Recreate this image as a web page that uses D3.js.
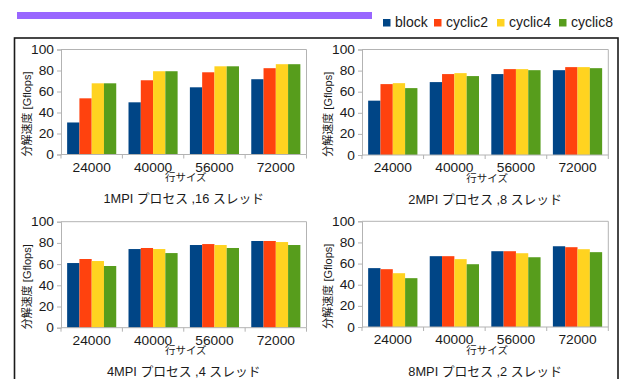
<!DOCTYPE html>
<html>
<head>
<meta charset="utf-8">
<script src="https://cdn.jsdelivr.net/npm/d3@7"></script>
<style>
  html, body { margin: 0; padding: 0; background: #fff; }
  svg { display: block; }
  text { font-family: "Liberation Sans", "Noto Sans CJK JP", sans-serif; fill: #1a1a1a; }
</style>
</head>
<body>
<svg id="chart" width="621" height="379"></svg>
<script>
// Matrix sizes on the x axis and the four distribution schemes
const categories = ["24000", "40000", "56000", "72000"];
const seriesNames = ["block", "cyclic2", "cyclic4", "cyclic8"];
const seriesColors = ["#004586", "#ff420e", "#ffd320", "#579d1c"];
const yTicks = [0, 20, 40, 60, 80, 100];

// Decomposition speed [Gflops]; one row per matrix size: block, cyclic2, cyclic4, cyclic8
const mpi1thr16 = [
  [30.5, 53.5, 67.8, 67.8],
  [49.7, 70.7, 79.3, 79.3],
  [64.0, 78.3, 84.0, 84.0],
  [71.7, 82.2, 86.0, 86.0]
];
const mpi2thr8 = [
  [51.5, 67.2, 68.1, 63.4],
  [69.1, 76.7, 77.6, 74.8],
  [76.7, 81.4, 81.4, 80.4],
  [80.4, 83.3, 83.3, 82.3]
];
const mpi4thr4 = [
  [61.0, 64.8, 62.9, 58.2],
  [74.2, 75.2, 74.2, 70.4],
  [78.0, 78.9, 78.0, 75.2],
  [81.8, 81.8, 80.8, 78.0]
];
const mpi8thr2 = [
  [55.7, 54.7, 50.9, 46.2],
  [67.0, 67.0, 64.2, 59.4],
  [71.7, 71.7, 69.8, 66.0],
  [76.4, 75.5, 73.6, 70.8]
];
const panelTitles = [
  "1MPI プロセス ,16 スレッド",
  "2MPI プロセス ,8 スレッド",
  "4MPI プロセス ,4 スレッド",
  "8MPI プロセス ,2 スレッド"
];
const yLabel = "分解速度 [Gflops]";
const xLabel = "行サイズ";

const svg = d3.select("#chart");
const gridColor = "#b3b3b3";
const stretch = 1.1;

// Header band and outer frame
svg.append("rect").attr("x", 17).attr("y", 12).attr("width", 355).attr("height", 7).attr("fill", "#9966ff");
svg.append("rect").attr("x", 14.5).attr("y", 38).attr("width", 603.5).attr("height", 360)
  .attr("fill", "none").attr("stroke", "#1a1a1a").attr("stroke-width", 1.6);

// Legend
const legendX = [383, 434, 497, 559];
const legend = svg.append("g");
seriesNames.forEach((name, i) => {
  legend.append("rect").attr("x", legendX[i]).attr("y", 19).attr("width", 7.5).attr("height", 7.5)
    .attr("fill", seriesColors[i]);
  legend.append("text").attr("x", legendX[i] + 12).attr("y", 27.3)
    .attr("font-size", 14).text(name);
});

const panels = [
  { data: mpi1thr16, title: panelTitles[0], x0: 61, x1: 306.5, y0: 49.5, y1: 154.5 },
  { data: mpi2thr8,  title: panelTitles[1], x0: 362, x1: 608.3, y0: 49.5, y1: 155 },
  { data: mpi4thr4,  title: panelTitles[2], x0: 61, x1: 306.5, y0: 221.7, y1: 327.7 },
  { data: mpi8thr2,  title: panelTitles[3], x0: 362, x1: 608.3, y0: 221.3, y1: 327 }
];

panels.forEach(p => {
  const g = svg.append("g");
  const x = d3.scaleBand().domain(categories).range([p.x0, p.x1]).paddingInner(0).paddingOuter(0);
  const bw = x.bandwidth();
  const xs = d3.scaleBand().domain(seriesNames).range([bw * 0.1, bw * 0.9]).padding(0);
  const y = d3.scaleLinear().domain([0, 100]).range([p.y1, p.y0]);

  // Plot border (top and right)
  g.append("path")
    .attr("d", `M${p.x0},${y(100)}H${p.x1}V${y(0)}`)
    .attr("fill", "none").attr("stroke", gridColor).attr("stroke-width", 1);

  // Bars
  categories.forEach((c, ci) => {
    g.selectAll(null).data(p.data[ci]).join("rect")
      .attr("x", (d, si) => x(c) + xs(seriesNames[si]))
      .attr("y", d => y(d))
      .attr("width", xs.bandwidth())
      .attr("height", d => y(0) - y(d))
      .attr("fill", (d, si) => seriesColors[si]);
  });

  // Y axis
  const ya = g.append("g").attr("transform", `translate(${p.x0},0)`)
    .call(d3.axisLeft(y).tickValues(yTicks).tickSize(4).tickPadding(3).tickFormat(d3.format("d")));
  ya.select(".domain").attr("stroke", gridColor);
  ya.selectAll(".tick line").attr("stroke", gridColor);
  ya.selectAll(".tick text").attr("font-size", 12.5).attr("fill", "#1a1a1a")
    .attr("font-family", "Liberation Sans").attr("transform", `scale(${stretch},1)`).attr("x", -7 / stretch);

  // X axis: category labels centred in bands, ticks at band edges
  const xa = g.append("g").attr("transform", `translate(0,${p.y1})`)
    .call(d3.axisBottom(x).tickSize(0).tickPadding(0));
  xa.select(".domain").remove();
  g.append("line").attr("x1", p.x0).attr("x2", p.x1).attr("y1", p.y1).attr("y2", p.y1)
    .attr("stroke", gridColor);
  const edges = categories.map(c => x(c)).concat([p.x1]);
  g.selectAll(null).data(edges).join("line")
    .attr("x1", d => d).attr("x2", d => d).attr("y1", p.y1).attr("y2", p.y1 + 4)
    .attr("stroke", gridColor);
  xa.selectAll(".tick text").attr("font-size", 12.5).attr("fill", "#1a1a1a")
    .attr("font-family", "Liberation Sans").attr("dy", null).attr("y", 17.3)
    .attr("transform", `scale(${stretch},1)`).attr("x", 0);

  const cx = (p.x0 + p.x1) / 2;
  g.append("text").attr("x", cx + 2).attr("y", p.y1 + 26.5).attr("text-anchor", "middle")
    .attr("font-size", 10.5).text(xLabel);
  g.append("text").attr("x", cx).attr("y", p.y1 + 48.5).attr("text-anchor", "middle")
    .attr("font-size", 12.8).text(p.title);

  // Rotated y label
  g.append("text")
    .attr("transform", `translate(${p.x0 - 30},${(p.y0 + p.y1) / 2 + 12}) rotate(-90)`)
    .attr("text-anchor", "middle").attr("font-size", 11).text(yLabel);
});
</script>
</body>
</html>
